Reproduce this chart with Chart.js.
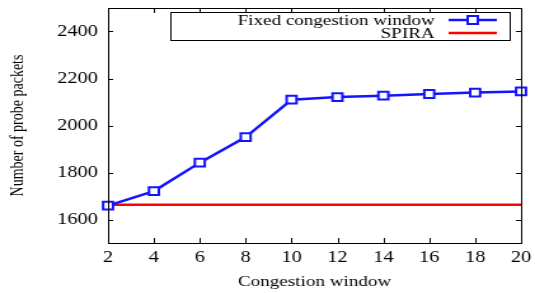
<!DOCTYPE html>
<html>
<head>
<meta charset="utf-8">
<script src="https://cdn.jsdelivr.net/npm/chart.js@4"></script>
<style>
  html, body { margin: 0; padding: 0; background: #fff; overflow: hidden; }
  /* the source figure is stretched sideways, so draw narrow and scale the box */
  #wrap { width: 421px; height: 293px; transform: scaleX(1.2708); transform-origin: 0 0; }
</style>
</head>
<body>
<div id="wrap"><canvas id="chart"></canvas></div>
<script>
const windows = [2, 4, 6, 8, 10, 12, 14, 16, 18, 20];
const fixedPackets = [1659, 1721, 1842, 1951, 2110, 2121, 2127, 2134, 2140, 2145];
const spiraPackets = 1663;
const yTicks = [1600, 1800, 2000, 2200, 2400];
const seriesNames = ['Fixed congestion window', 'SPIRA'];

const serif = "'Liberation Serif', 'DejaVu Serif', serif";
const blue = '#1414ff';
const red = '#ff0000';

// frame, inward ticks on all four sides and the boxed legend
const framePlugin = {
  id: 'frame',
  afterDraw(chart) {
    const { ctx, chartArea: a, scales } = chart;
    ctx.save();
    ctx.strokeStyle = '#000';
    ctx.lineWidth = 1;
    ctx.strokeRect(a.left + 0.5, a.top + 0.5, a.right - a.left, a.bottom - a.top);
    ctx.beginPath();
    windows.forEach(v => {
      const x = Math.round(scales.x.getPixelForValue(v)) + 0.5;
      ctx.moveTo(x, a.bottom); ctx.lineTo(x, a.bottom - 5);
      ctx.moveTo(x, a.top); ctx.lineTo(x, a.top + 5);
    });
    yTicks.forEach(v => {
      const y = Math.round(scales.y.getPixelForValue(v)) + 0.5;
      ctx.moveTo(a.left, y); ctx.lineTo(a.left + 4, y);
      ctx.moveTo(a.right, y); ctx.lineTo(a.right - 4, y);
    });
    ctx.stroke();

    const bx = 134, by = 12, bw = 267, bh = 28;
    ctx.fillStyle = '#fff';
    ctx.fillRect(bx, by, bw, bh);
    ctx.strokeRect(bx + 0.5, by + 0.5, bw, bh);
    ctx.font = '15px ' + serif;
    ctx.textAlign = 'right';
    ctx.textBaseline = 'middle';
    const rows = [by + 8, by + 21];
    const colors = [blue, red];
    seriesNames.forEach((name, i) => {
      ctx.fillStyle = '#000';
      ctx.fillText(name, 342, rows[i] + 1);
      ctx.strokeStyle = colors[i];
      ctx.lineWidth = 2.5;
      ctx.beginPath();
      ctx.moveTo(353, rows[i]); ctx.lineTo(391, rows[i]);
      ctx.stroke();
    });
    ctx.fillStyle = '#fff';
    ctx.fillRect(368, rows[0] - 4, 8, 8);
    ctx.strokeStyle = blue;
    ctx.lineWidth = 2;
    ctx.strokeRect(368, rows[0] - 4, 8, 8);
    ctx.restore();
  }
};

new Chart(document.getElementById('chart'), {
  type: 'line',
  data: {
    datasets: [
      {
        label: seriesNames[1],
        data: [{ x: windows[0], y: spiraPackets }, { x: windows[windows.length - 1], y: spiraPackets }],
        borderColor: red,
        borderWidth: 2.5,
        pointRadius: 0,
        order: 2
      },
      {
        label: seriesNames[0],
        data: windows.map((w, i) => ({ x: w, y: fixedPackets[i] })),
        borderColor: blue,
        backgroundColor: '#fff',
        borderWidth: 2.5,
        pointStyle: 'rect',
        pointRadius: 5.5,
        pointBorderWidth: 2,
        clip: false,
        order: 1
      }
    ]
  },
  options: {
    responsive: true,
    maintainAspectRatio: false,
    animation: false,
    layout: { padding: { left: 2, right: 11, top: 8, bottom: 2 } },
    plugins: { legend: { display: false }, tooltip: { enabled: false } },
    scales: {
      x: {
        type: 'linear',
        min: 2, max: 20,
        grid: { display: false, drawTicks: false },
        border: { display: false },
        ticks: { stepSize: 2, color: '#000', padding: 5, font: { family: serif, size: 16 } },
        title: { display: true, text: 'Congestion window', color: '#000', padding: { top: 0, bottom: 0 }, font: { family: serif, size: 15 } },
        afterFit(s) { s.height = 48; s.paddingLeft = 0; s.paddingRight = 0; }
      },
      y: {
        min: 1500, max: 2500,
        afterBuildTicks(s) { s.ticks = yTicks.map(v => ({ value: v })); },
        grid: { display: false, drawTicks: false },
        border: { display: false },
        ticks: { color: '#000', padding: 8, font: { family: serif, size: 16 }, callback: v => String(v) },
        title: { display: true, text: 'Number of probe packets', color: '#000', padding: { bottom: 0 }, font: { family: serif, size: 14 } },
        afterFit(s) { s.width = 83; s.paddingTop = 0; s.paddingBottom = 0; }
      }
    }
  },
  plugins: [framePlugin]
});
</script>
</body>
</html>
